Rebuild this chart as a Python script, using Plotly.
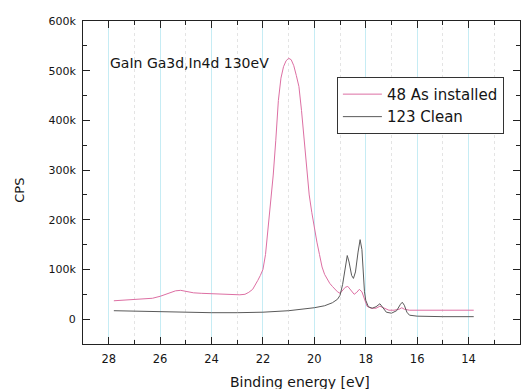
import plotly.graph_objects as go

# Binding energy [eV] and counts (kCPS)
be_as = [27.8, 27.4, 27.0, 26.6, 26.3, 26.0, 25.7, 25.4, 25.2, 25.0, 24.7, 24.4, 24.0, 23.6, 23.2,
         22.9, 22.7, 22.55, 22.4, 22.3, 22.2, 22.1, 22.0, 21.9, 21.8, 21.7, 21.6, 21.5, 21.4, 21.3,
         21.2, 21.1, 21.0, 20.9, 20.8, 20.7, 20.6, 20.5, 20.4, 20.3, 20.2, 20.1, 20.0, 19.9, 19.8,
         19.7, 19.6, 19.5, 19.4, 19.3, 19.2, 19.1, 19.0, 18.9, 18.8, 18.7, 18.6, 18.5, 18.45, 18.35,
         18.25, 18.15, 18.05, 17.95, 17.8, 17.6, 17.45, 17.3, 17.1, 16.9, 16.7, 16.6, 16.5, 16.3,
         16.0, 15.0, 14.0, 13.8]
cps_as = [37, 38, 39, 40, 42, 46, 52, 57, 58, 56, 53, 52, 51, 50, 49,
          49, 50, 54, 60, 68, 78, 88, 100, 130, 180, 240, 290, 360, 440, 485,
          508, 520, 525, 522, 510, 490, 468, 420, 360, 295, 250, 215, 180, 155, 130,
          105, 90, 80, 72, 66, 60, 55, 52, 57, 64, 66, 60, 52, 50, 54,
          60, 55, 38, 26, 22, 22, 26, 22, 18, 18, 20, 23, 20, 18,
          18, 18, 18, 18]

be_clean = [27.8, 27.0, 26.0, 25.0, 24.0, 23.0, 22.0, 21.0, 20.5, 20.0, 19.6, 19.3, 19.1, 19.0,
            18.9, 18.8, 18.72, 18.65, 18.55, 18.48, 18.4, 18.3, 18.22, 18.15, 18.1, 18.05, 18.0,
            17.9, 17.75, 17.6, 17.45, 17.35, 17.2, 17.0, 16.8, 16.65, 16.58, 16.5, 16.4, 16.3,
            16.0, 15.0, 14.0, 13.8]
cps_clean = [17, 16, 14, 13.5, 13, 13, 14, 17, 20, 23, 27, 33, 40, 48,
             70, 105, 128, 115, 88, 82, 95, 135, 160, 140, 95, 55, 38,
             25, 22, 25, 31, 24, 14, 12, 17, 30, 34, 28, 14, 8,
             6, 5, 5, 5]

series_names = ["48 As installed", "123 Clean"]
y_tickvals = [0, 100000, 200000, 300000, 400000, 500000, 600000]
y_ticktext = ["0", "100k", "200k", "300k", "400k", "500k", "600k"]
x_tickvals = [28, 26, 24, 22, 20, 18, 16, 14, 12]
title_text = "GaIn Ga3d,In4d 130eV"
x_title = "Binding energy [eV]"
y_title = "CPS"

FONT = "DejaVu Sans"
TXT = "#151515"

fig = go.Figure()
fig.add_trace(go.Scatter(x=be_as, y=[v * 1000 for v in cps_as], mode="lines",
                         name=series_names[0], line=dict(color="#dd6fa3", width=1)))
fig.add_trace(go.Scatter(x=be_clean, y=[v * 1000 for v in cps_clean], mode="lines",
                         name=series_names[1], line=dict(color="#5a5a5a", width=1)))

fig.update_layout(
    width=526, height=389,
    margin=dict(l=83, r=6, t=21, b=45, autoexpand=False),
    paper_bgcolor="white", plot_bgcolor="white",
    font=dict(family=FONT, size=11, color=TXT),
    showlegend=True,
    legend=dict(x=0.581, y=0.827, xanchor="left", yanchor="top",
                bordercolor="#333", borderwidth=1, bgcolor="white",
                font=dict(family=FONT, size=15, color=TXT),
                tracegroupgap=0, itemwidth=39, entrywidth=125, entrywidthmode="pixels"),
    annotations=[
        dict(text=title_text, xref="paper", yref="paper", x=0.057, y=0.87,
             xanchor="left", yanchor="middle", showarrow=False,
             font=dict(family=FONT, size=14, color=TXT)),
        dict(text=x_title, xref="paper", yref="paper", x=0.497, y=-0.118,
             xanchor="center", yanchor="middle", showarrow=False,
             font=dict(family=FONT, size=14, color=TXT)),
        dict(text=y_title, xref="paper", yref="paper", x=-0.146, y=0.475,
             xanchor="center", yanchor="middle", showarrow=False, textangle=-90,
             font=dict(family=FONT, size=13, color=TXT)),
    ],
)
fig.update_xaxes(
    range=[29, 12], tickvals=x_tickvals, ticks="inside", ticklen=7, tickcolor="#222",
    showline=True, linecolor="#222", linewidth=1, mirror="ticks",
    showgrid=True, gridcolor="#c6ecf4", gridwidth=1, zeroline=False, automargin=False,
    minor=dict(dtick=1, ticks="inside", ticklen=4, tickcolor="#222",
               showgrid=True, gridcolor="#e4e4e4", griddash="dot"),
    tickfont=dict(size=11.5, color=TXT), ticklabelstandoff=4,
)
fig.update_yaxes(
    range=[-50000, 600000], tickvals=y_tickvals, ticktext=y_ticktext,
    ticks="inside", ticklen=7, tickcolor="#222",
    showline=True, linecolor="#222", linewidth=1, mirror="ticks",
    showgrid=False, zeroline=False, automargin=False,
    minor=dict(dtick=50000, ticks="inside", ticklen=4, tickcolor="#222", showgrid=False),
    tickfont=dict(size=11, color=TXT), ticklabelstandoff=4,
)

fig.write_html("out.html", config={"displayModeBar": False},
               post_script="document.body.style.margin='0';document.body.style.overflow='hidden';")
